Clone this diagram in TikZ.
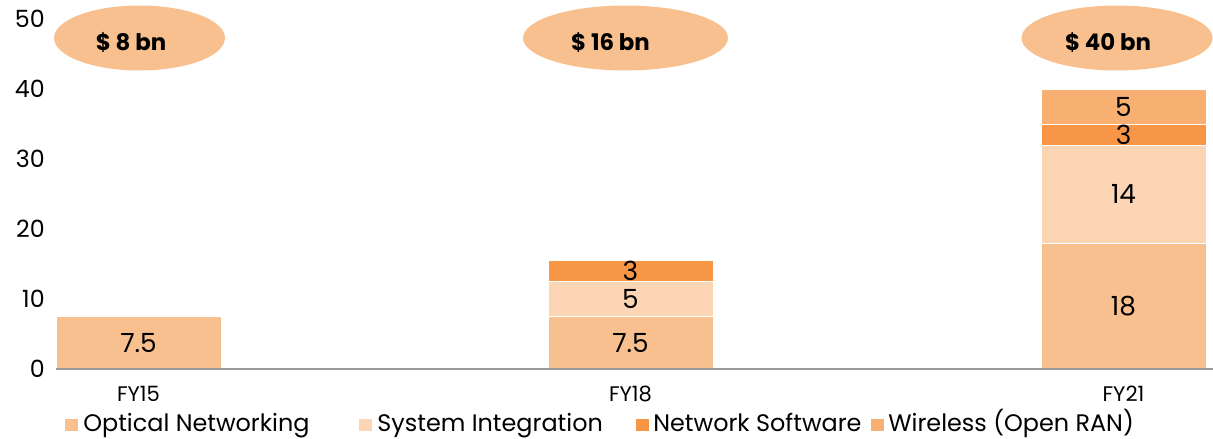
\documentclass[tikz,border=0pt]{standalone}
\usepackage{fontspec}
\setmainfont{Poppins}
\usetikzlibrary{shapes.geometric}
\definecolor{optical}{HTML}{F9C08F}
\definecolor{sysint}{HTML}{FCD5B5}
\definecolor{netsw}{HTML}{F79646}
\definecolor{wireless}{HTML}{F7AF72}
\tikzset{
  seg/.style={draw=white, line width=0.4pt},
  vallabel/.style={font=\fontsize{15}{15}\selectfont},
  ticklabel/.style={anchor=east, inner sep=0pt, font=\fontsize{13.5}{13.5}\selectfont},
  catlabel/.style={inner sep=0pt, font=\fontsize{12}{12}\selectfont},
  tagoval/.style={ellipse, fill=optical, inner sep=0pt, minimum height=1.3cm},
  taglabel/.style={inner sep=0pt, font=\bfseries\fontsize{13}{13}\selectfont},
  keybox/.style={minimum size=0.25cm, inner sep=0pt, anchor=west},
  keylabel/.style={anchor=base west, inner sep=0pt, font=\fontsize{13.6}{13.6}\selectfont},
  baseline/.style={draw=black!40, line width=1pt},
}

\begin{document}
\begin{tikzpicture}[x=0.02cm, y=0.02cm]
\useasboundingbox (0,0) rectangle (1213,439);
\node[ticklabel] (t0) at (45,70) {0};
\node[ticklabel] (t10) at (45,140) {10};
\node[ticklabel] (t20) at (45,210) {20};
\node[ticklabel] (t30) at (45,280) {30};
\node[ticklabel] (t40) at (45,350) {40};
\node[ticklabel] (t50) at (45,420) {50};
\fill[optical, seg] (56,70) rectangle (221,122.5);
\fill[optical, seg] (548,70) rectangle (713,122.5);
\fill[sysint, seg] (548,122.5) rectangle (713,157.5);
\fill[netsw, seg] (548,157.5) rectangle (713,178.5);
\fill[optical, seg] (1041,70) rectangle (1206,196);
\fill[sysint, seg] (1041,196) rectangle (1206,294);
\fill[netsw, seg] (1041,294) rectangle (1206,315);
\fill[wireless, seg] (1041,315) rectangle (1206,350);
\coordinate (axl) at (56,70);
\coordinate (axr) at (1213,70);
\draw[baseline] (axl) -- (axr);
\node[vallabel] (a1) at (138.5,96.25) {7.5};
\node[vallabel] (b1) at (630.5,96.25) {7.5};
\node[vallabel] (b2) at (630.5,140) {5};
\node[vallabel] (b3) at (630.5,168) {3};
\node[vallabel] (c1) at (1123.5,133) {18};
\node[vallabel] (c2) at (1123.5,245) {14};
\node[vallabel] (c3) at (1123.5,304.5) {3};
\node[vallabel] (c4) at (1123.5,332.5) {5};
\node[catlabel] (fy15) at (138.5,45) {FY15};
\node[catlabel] (fy18) at (630.5,45) {FY18};
\node[catlabel] (fy21) at (1123.5,45) {FY21};
\node[tagoval, minimum width=3.42cm] (o15) at (139.5,401) {};
\node[tagoval, minimum width=4.1cm] (o18) at (625.5,401) {};
\node[tagoval, minimum width=3.82cm] (o21) at (1117,401) {};
\node[taglabel] (s15) at (131,397) {\$ 8 bn};
\node[taglabel] (s18) at (610.5,397) {\$ 16 bn};
\node[taglabel] (s21) at (1108,397) {\$ 40 bn};
\node[keybox, fill=optical] (k1) at (65,14) {};
\node[keylabel] (l1) at (83,7) {Optical Networking};
\node[keybox, fill=sysint] (k2) at (359,14) {};
\node[keylabel] (l2) at (377,7) {System Integration};
\node[keybox, fill=netsw] (k3) at (636,14) {};
\node[keylabel] (l3) at (653,7) {Network Software};
\node[keybox, fill=wireless] (k4) at (871,14) {};
\node[keylabel] (l4) at (888,7) {Wireless (Open RAN)};
\end{tikzpicture}
\end{document}
